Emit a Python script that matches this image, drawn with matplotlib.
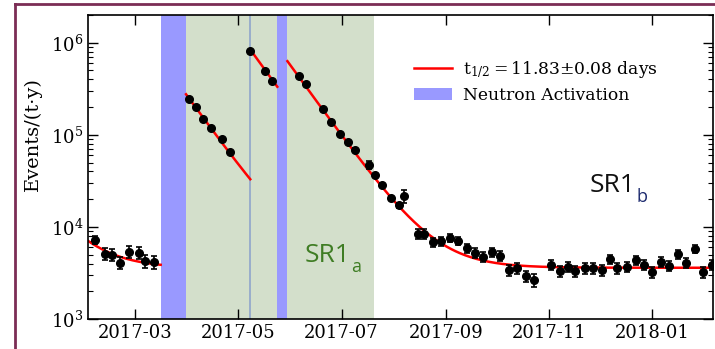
import numpy as np
import pandas as pd
import matplotlib
matplotlib.use("Agg")
import matplotlib.pyplot as plt
import matplotlib.dates as mdates
from matplotlib.lines import Line2D
from matplotlib.ticker import NullLocator

plt.rcParams['font.family'] = ['DejaVu Serif']
plt.rcParams['mathtext.fontset'] = 'dejavuserif'

# binned event rates (events per tonne-year) with uncertainties
dates_pre = ['2017-02-05', '2017-02-11', '2017-02-15', '2017-02-20', '2017-02-25',
             '2017-03-03', '2017-03-07', '2017-03-12']
rate_pre = [7230, 5090, 4960, 4090, 5350, 5260, 4260, 4170]
err_pre = [700, 750, 750, 620, 780, 760, 650, 650]

dates_apr = ['2017-04-02', '2017-04-06', '2017-04-10', '2017-04-15', '2017-04-21', '2017-04-26']
rate_apr = [246000, 201000, 149000, 119000, 90600, 65300]
err_apr = [3500, 3000, 2500, 2200, 1800, 1500]

dates_may = ['2017-05-08', '2017-05-17', '2017-05-21']
rate_may = [818000, 497000, 386000]
err_may = [9000, 7000, 6000]

dates_post = ['2017-06-06', '2017-06-10', '2017-06-20', '2017-06-25', '2017-06-30', '2017-07-05',
              '2017-07-09', '2017-07-17', '2017-07-21', '2017-07-25', '2017-07-30', '2017-08-04',
              '2017-08-07', '2017-08-15', '2017-08-19', '2017-08-24', '2017-08-29', '2017-09-03',
              '2017-09-08', '2017-09-13', '2017-09-18', '2017-09-23', '2017-09-28', '2017-10-03',
              '2017-10-08', '2017-10-13', '2017-10-18', '2017-10-23', '2017-11-02', '2017-11-07',
              '2017-11-12', '2017-11-16', '2017-11-22', '2017-11-27', '2017-12-02', '2017-12-07',
              '2017-12-11', '2017-12-17', '2017-12-22', '2017-12-27', '2018-01-01', '2018-01-06',
              '2018-01-11', '2018-01-16', '2018-01-21', '2018-01-26', '2018-01-31', '2018-02-05']
rate_post = [430000, 352000, 190000, 138000, 102000, 83300,
             69200, 46900, 36500, 28600, 20700, 17100,
             21700, 8400, 8400, 6870, 7040, 7590,
             7040, 5910, 5210, 4720, 5350, 4840,
             3410, 3580, 2930, 2650, 3860, 3320,
             3670, 3320, 3580, 3580, 3410, 4490,
             3580, 3670, 4370, 3860, 3240, 4170,
             3770, 5090, 4060, 5770, 3240, 3860]
err_post = [6000, 5000, 3500, 3000, 2500, 2200,
            2000, 4500, 1500, 1300, 1100, 1100,
            3400, 1100, 1100, 800, 800, 800,
            750, 650, 620, 580, 620, 580,
            450, 470, 420, 400, 480, 450,
            470, 450, 470, 470, 450, 520,
            470, 470, 520, 480, 440, 500,
            480, 560, 500, 600, 440, 480]

# exponential decay fit: background + amplitude * 2^(-t / t_half)
half_life = 11.83
half_life_err = 0.08
fit_background = 3600
fit_starts = ['2017-02-01', '2017-03-31', '2017-05-08', '2017-05-30']
fit_ends = ['2017-03-16', '2017-05-08', '2017-05-24', '2018-02-06']
fit_amplitudes = [3450, 272000, 840000, 627000]

# detector periods
activation_starts = ['2017-03-16', '2017-05-24']
activation_ends = ['2017-03-31', '2017-05-30']
sr1a_period = ('2017-03-31', '2017-07-20')
calibration_day = '2017-05-08'

fig = plt.figure(figsize=(7.15, 3.49), dpi=100)
ax = fig.add_axes([0.1231, 0.086, 0.8745, 0.871])

ax.axvspan(pd.Timestamp(sr1a_period[0]), pd.Timestamp(sr1a_period[1]),
           color='#d3dfcb', lw=0, zorder=0)
spans = []
for s, e in zip(activation_starts, activation_ends):
    spans.append(ax.axvspan(pd.Timestamp(s), pd.Timestamp(e), color='#9999ff', lw=0, zorder=0.5))
ax.axvline(pd.Timestamp(calibration_day), color='#8fa5cc', lw=1.2, zorder=0.6)

fit_lines = []
for s, e, amp in zip(fit_starts, fit_ends, fit_amplitudes):
    t0 = pd.Timestamp(s)
    t = pd.date_range(t0, pd.Timestamp(e), periods=300)
    days = np.asarray((t - t0) / pd.Timedelta(days=1))
    model = fit_background + amp * 2.0 ** (-days / half_life)
    fit_lines += ax.plot(t, model, color='red', lw=1.8, zorder=2)

for d, r, e in [(dates_pre, rate_pre, err_pre), (dates_apr, rate_apr, err_apr),
                (dates_may, rate_may, err_may), (dates_post, rate_post, err_post)]:
    ax.errorbar(pd.to_datetime(d), r, yerr=e, fmt='o', color='black', ms=5.5,
                elinewidth=1.2, capsize=2, capthick=1.2, zorder=3)

ax.set_yscale('log')
ax.set_ylim(1e3, 2e6)
ax.set_xlim(pd.Timestamp('2017-02-01'), pd.Timestamp('2018-02-06'))
ax.xaxis.set_major_locator(mdates.MonthLocator(bymonth=[1, 3, 5, 7, 9, 11]))
ax.xaxis.set_major_formatter(mdates.DateFormatter('%Y-%m'))
ax.xaxis.set_minor_locator(NullLocator())
ax.tick_params(which='both', direction='in', top=True, right=True, labelsize=13)
ax.tick_params(which='major', length=7, width=1)
ax.tick_params(which='minor', length=3.5, width=0.8)
for sp in ax.spines.values():
    sp.set_linewidth(1.2)

fig.text(33 / 715, 0.616, 'Events/(t\u00b7y)', rotation=90, ha='center', va='center', fontsize=14)

fit_label = r'$\mathrm{t}_{1/2}=$' + f'{half_life:.2f}\u00b1{half_life_err:.2f} days'
ax.legend([fit_lines[0], spans[0]], [fit_label, 'Neutron Activation'],
          loc='upper left', bbox_to_anchor=(0.497, 0.907), frameon=False, fontsize=12.3,
          handlelength=2.2, handletextpad=0.65, labelspacing=0.45)

# run labels with subscripts
sr1a = ax.text(0.347, 0.1875, 'SR1', transform=ax.transAxes, fontsize=19, family='Open Sans',
               color='#3f7d24', va='baseline')
ax.annotate('a', xy=(1, 0), xycoords=sr1a, xytext=(0.5, -3), textcoords='offset points',
            fontsize=13, family='Open Sans', color='#3f7d24', va='baseline')
sr1b = ax.text(0.803, 0.418, 'SR1', transform=ax.transAxes, fontsize=19, family='Open Sans',
               color='#111111', va='baseline')
ax.annotate('b', xy=(1, 0), xycoords=sr1b, xytext=(0.5, -3), textcoords='offset points',
            fontsize=13, family='Open Sans', color='#1c2a6e', va='baseline')

# slide frame
fig.add_artist(Line2D([15 / 715, 15 / 715], [0, 1 - 3.5 / 349], transform=fig.transFigure,
                      color='#7b2d55', lw=2))
fig.add_artist(Line2D([15 / 715, 1], [1 - 3.5 / 349, 1 - 3.5 / 349], transform=fig.transFigure,
                      color='#7b2d55', lw=2))

fig.savefig('out.png', dpi=100)
